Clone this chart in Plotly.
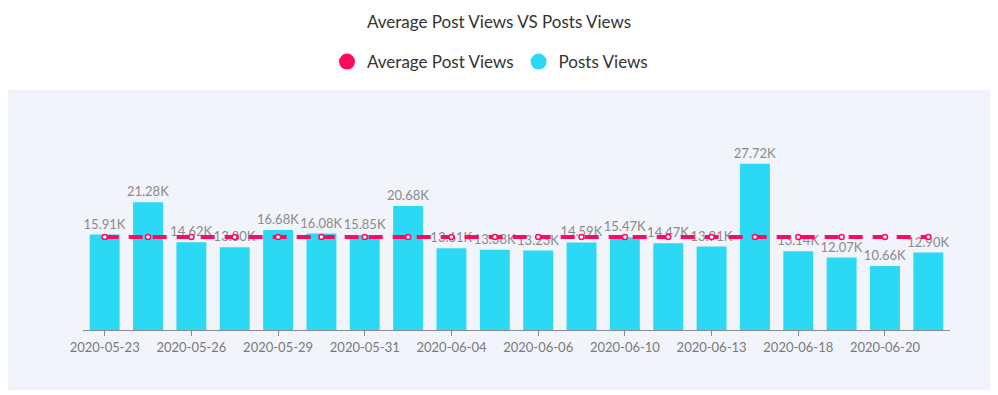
import plotly.graph_objects as go

dates = ["2020-05-23", "2020-05-24", "2020-05-26", "2020-05-27", "2020-05-29",
         "2020-05-30", "2020-05-31", "2020-06-02", "2020-06-04", "2020-06-05",
         "2020-06-06", "2020-06-08", "2020-06-10", "2020-06-12", "2020-06-13",
         "2020-06-15", "2020-06-18", "2020-06-19", "2020-06-20", "2020-06-22"]
post_views = [15910, 21280, 14620, 13800, 16680, 16080, 15850, 20680, 13610, 13380,
              13230, 14590, 15470, 14470, 13910, 27720, 13140, 12070, 10660, 12900]
average_views = [15500] * len(dates)
tick_dates = dates[::2]

PINK = "#FF0A5F"
CYAN = "#2BD9F5"
FONT = "Lato"

labels = [f"{v/1000:.2f}K" for v in post_views]

# figure is drawn with an 8px page offset; geometry below is in figure pixels
W, H = 990, 387
L, R, T, B = 75, 48, 142, 65
PW, PH = W - L - R, H - T - B

fig = go.Figure()
fig.add_trace(go.Bar(
    x=dates, y=post_views, marker=dict(color=CYAN, line=dict(width=0)),
    text=labels, textposition="outside", cliponaxis=False,
    textangle=0, constraintext="none",
    textfont=dict(family=FONT, size=13, color="#8a8a8a"),
    showlegend=False, hoverinfo="x+y"))
fig.add_trace(go.Scatter(
    x=dates, y=average_views, mode="lines+markers",
    line=dict(color=PINK, width=4, dash="14px,10px"),
    marker=dict(symbol="circle", size=5, color="white", line=dict(color=PINK, width=1.5)),
    showlegend=False, cliponaxis=False))
# legend entries
fig.add_trace(go.Scatter(x=[dates[0]], y=[None], mode="markers", name="Average Post Views",
                         marker=dict(symbol="circle", size=16, color=PINK)))
fig.add_trace(go.Scatter(x=[dates[0]], y=[None], mode="markers", name="Posts Views",
                         marker=dict(symbol="circle", size=16, color=CYAN)))

fig.update_layout(
    width=W, height=H,
    margin=dict(l=L, r=R, t=T, b=B),
    paper_bgcolor="white", plot_bgcolor="#F1F4FB",
    title=dict(text="Average Post Views VS Posts Views", x=(499 - 8) / W, xanchor="center",
               y=1 - 14 / H, yanchor="middle",
               font=dict(family=FONT, size=17, color="#333333")),
    legend=dict(orientation="h", x=(327 - 8 - L) / PW, xanchor="left",
                y=1 + (T - 54) / PH, yanchor="middle",
                font=dict(family=FONT, size=17, color="#333333"),
                itemsizing="trace", bgcolor="rgba(0,0,0,0)", traceorder="normal"),
    bargap=0.31,
    shapes=[dict(type="rect", xref="paper", yref="paper",
                 x0=-L / PW, x1=(982 - L) / PW,
                 y0=-60 / PH, y1=(T + PH - 82) / PH,
                 fillcolor="#F1F4FB", line=dict(width=0), layer="below")],
    xaxis=dict(type="category", tickmode="array", tickvals=tick_dates, ticktext=tick_dates,
               range=[-0.5, len(dates) - 0.5],
               showgrid=False, showline=True, linecolor="#8a8a8a", linewidth=1,
               ticks="outside", ticklen=5, tickcolor="#8a8a8a",
               tickfont=dict(family=FONT, size=13, color="#7a7a7a"),
               zeroline=False, automargin=False),
    yaxis=dict(range=[0, 30000], visible=False, showgrid=False, zeroline=False),
    hovermode="closest",
)

fig.write_html("out.html")
